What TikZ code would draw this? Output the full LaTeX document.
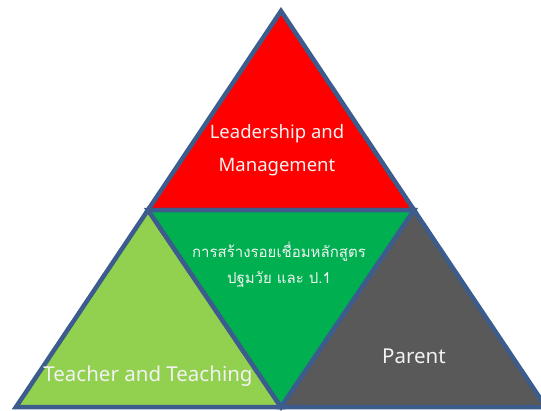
\documentclass[tikz,border=0pt]{standalone}
\usepackage{fontspec}
\setmainfont{Noto Sans}
\newfontfamily\thaifont[Script=Thai]{Loma}
\definecolor{edgeblue}{HTML}{3B5C8C}
\definecolor{lightgreen}{HTML}{92D050}
\definecolor{midgreen}{HTML}{00B050}
\definecolor{darkgray}{HTML}{595959}
\definecolor{labelwhite}{HTML}{F2F2F2}
\tikzset{
  part/.style={draw=edgeblue, line width=4.5pt},
  label/.style={text=labelwhite, align=center, inner sep=0}
}
\begin{document}
\begin{tikzpicture}[x=1pt, y=-1pt]
\useasboundingbox (0, 0) rectangle (541, 410);
% corners
  \coordinate (top) at (281, 11);
  \coordinate (midL) at (148, 210);
  \coordinate (midR) at (414, 210);
  \coordinate (botL) at (16, 407);
  \coordinate (botM) at (281, 407);
  \coordinate (botR) at (546, 407);

% triangles
  \draw[part, fill=red] (top) -- (midL) -- (midR) -- cycle;
  \draw[part, fill=lightgreen] (midL) -- (botL) -- (botM) -- cycle;
  \draw[part, fill=darkgray] (midR) -- (botM) -- (botR) -- cycle;
  \draw[part, fill=midgreen] (midL) -- (midR) -- (botM) -- cycle;

% texts
  \node[label, font=\fontsize{18.5}{33}\selectfont] (lead) at (277, 150)
    {Leadership and\\Management};
  \node[label, font=\thaifont\fontsize{15}{26}\selectfont] (link) at (279, 265)
    {การสร้างรอยเชื่อมหลักสูตร\\ปฐมวัย และ ป.1};
  \node[label, font=\fontsize{20.5}{22}\selectfont] (teach) at (148, 376)
    {Teacher and Teaching};
  \node[label, font=\fontsize{20.5}{22}\selectfont] (parent) at (414, 356)
    {Parent};
\end{tikzpicture}
\end{document}
